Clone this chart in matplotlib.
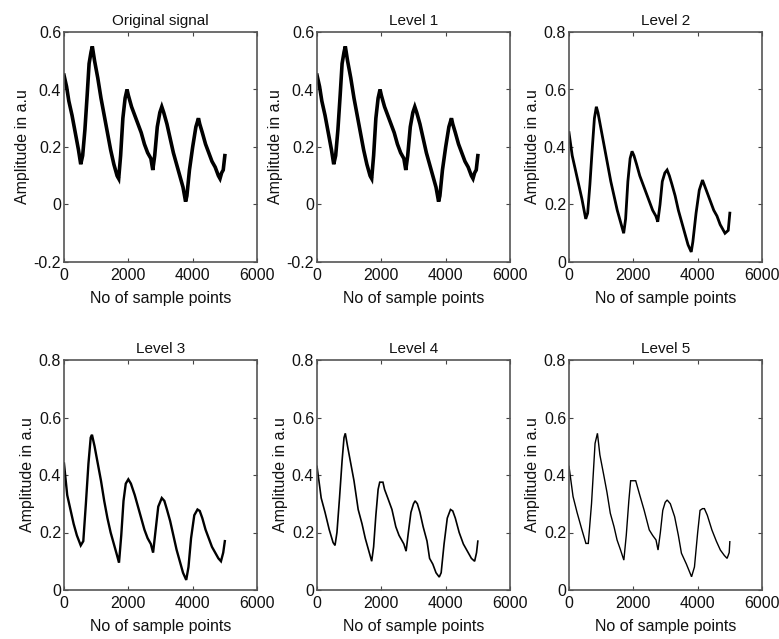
import numpy as np
import matplotlib.pyplot as plt

plt.rcParams['font.family'] = ['Liberation Sans', 'DejaVu Sans']

# sample index / amplitude pairs
original_x = [0, 80, 150, 250, 350, 450, 520, 580, 650, 720, 780, 840, 880, 950, 1050,
              1150, 1250, 1350, 1450, 1550, 1650, 1700, 1760, 1830, 1900, 1960, 2000, 2100,
              2200, 2300, 2400, 2500, 2600, 2700, 2760, 2820, 2900, 2980, 3040, 3100, 3200,
              3300, 3400, 3500, 3600, 3700, 3780, 3820, 3900, 4000, 4100, 4180, 4220, 4300,
              4400, 4500, 4600, 4700, 4800, 4850, 4900, 4950, 5000]
original_y = [0.45, 0.41, 0.36, 0.31, 0.25, 0.19, 0.14, 0.17, 0.26, 0.38, 0.49, 0.53, 0.55,
              0.50, 0.44, 0.37, 0.31, 0.25, 0.19, 0.14, 0.10, 0.09, 0.17, 0.30, 0.37, 0.40,
              0.38, 0.34, 0.31, 0.28, 0.25, 0.21, 0.18, 0.16, 0.12, 0.17, 0.27, 0.32, 0.34,
              0.32, 0.28, 0.23, 0.18, 0.14, 0.10, 0.06, 0.01, 0.03, 0.12, 0.20, 0.27, 0.30,
              0.28, 0.25, 0.21, 0.18, 0.15, 0.13, 0.10, 0.09, 0.11, 0.12, 0.17]

level1_x = list(original_x)
level1_y = list(original_y)

level2_x = [0, 100, 200, 300, 400, 520, 580, 650, 720, 790, 850, 900, 1000, 1100, 1200,
            1300, 1400, 1500, 1600, 1700, 1760, 1830, 1900, 1960, 2020, 2100, 2200, 2300,
            2400, 2500, 2600, 2700, 2760, 2830, 2900, 2980, 3050, 3120, 3200, 3300, 3400,
            3500, 3600, 3700, 3800, 3850, 3950, 4050, 4150, 4200, 4300, 4400, 4500, 4600,
            4700, 4800, 4850, 4950, 5000]
level2_y = [0.45, 0.37, 0.32, 0.27, 0.22, 0.15, 0.17, 0.27, 0.39, 0.50, 0.54, 0.52, 0.46,
            0.40, 0.34, 0.28, 0.23, 0.18, 0.14, 0.10, 0.15, 0.28, 0.36, 0.385, 0.37, 0.34,
            0.30, 0.27, 0.24, 0.21, 0.18, 0.16, 0.14, 0.20, 0.28, 0.31, 0.32, 0.30, 0.27,
            0.23, 0.18, 0.14, 0.10, 0.06, 0.035, 0.07, 0.17, 0.25, 0.285, 0.27, 0.24, 0.21,
            0.18, 0.16, 0.13, 0.11, 0.10, 0.11, 0.17]

level3_x = [0, 100, 200, 300, 400, 520, 600, 680, 760, 830, 870, 950, 1050, 1150, 1250,
            1350, 1450, 1550, 1650, 1710, 1780, 1850, 1920, 2000, 2080, 2200, 2300, 2400,
            2500, 2600, 2700, 2770, 2850, 2930, 3040, 3120, 3200, 3300, 3400, 3500, 3600,
            3700, 3800, 3870, 3950, 4050, 4150, 4220, 4300, 4400, 4500, 4600, 4700, 4800,
            4880, 4950, 5000]
level3_y = [0.44, 0.33, 0.28, 0.23, 0.19, 0.155, 0.17, 0.30, 0.44, 0.53, 0.54, 0.50, 0.44,
            0.38, 0.31, 0.25, 0.20, 0.16, 0.12, 0.095, 0.19, 0.31, 0.37, 0.385, 0.37, 0.33,
            0.29, 0.25, 0.21, 0.18, 0.16, 0.13, 0.21, 0.29, 0.32, 0.31, 0.28, 0.24, 0.19,
            0.14, 0.10, 0.06, 0.035, 0.08, 0.18, 0.26, 0.28, 0.275, 0.25, 0.21, 0.18, 0.15,
            0.13, 0.11, 0.10, 0.13, 0.17]

level4_x = [0, 60, 130, 250, 380, 500, 560, 620, 700, 780, 840, 880, 950, 1050, 1150,
            1280, 1400, 1500, 1600, 1700, 1760, 1830, 1900, 1950, 2050, 2100, 2200, 2330,
            2450, 2550, 2700, 2770, 2840, 2920, 3000, 3050, 3120, 3200, 3300, 3420, 3500,
            3600, 3700, 3800, 3860, 3950, 4050, 4150, 4220, 4300, 4420, 4550, 4700, 4800,
            4900, 4960, 5000]
level4_y = [0.43, 0.38, 0.32, 0.27, 0.21, 0.165, 0.155, 0.20, 0.32, 0.45, 0.53, 0.545, 0.50,
            0.44, 0.38, 0.28, 0.23, 0.18, 0.14, 0.10, 0.15, 0.26, 0.35, 0.375, 0.375, 0.35,
            0.32, 0.28, 0.22, 0.19, 0.16, 0.135, 0.20, 0.27, 0.30, 0.31, 0.30, 0.27, 0.22,
            0.17, 0.11, 0.09, 0.06, 0.045, 0.06, 0.16, 0.25, 0.28, 0.275, 0.25, 0.20, 0.16,
            0.13, 0.11, 0.10, 0.13, 0.17]

level5_x = [0, 126, 250, 400, 526, 600, 700, 810, 884, 960, 1080, 1180, 1284, 1400, 1494,
            1600, 1705, 1780, 1860, 1916, 2074, 2200, 2337, 2495, 2600, 2705, 2768, 2840,
            2915, 2990, 3052, 3150, 3284, 3400, 3495, 3650, 3810, 3900, 4000, 4074, 4150,
            4210, 4300, 4442, 4580, 4705, 4830, 4915, 4980, 5000]
level5_y = [0.43, 0.325, 0.27, 0.21, 0.162, 0.162, 0.30, 0.51, 0.545, 0.47, 0.40, 0.34,
            0.267, 0.22, 0.174, 0.14, 0.104, 0.19, 0.31, 0.38, 0.38, 0.33, 0.277, 0.209,
            0.19, 0.174, 0.139, 0.20, 0.277, 0.305, 0.313, 0.30, 0.255, 0.19, 0.128, 0.09,
            0.046, 0.08, 0.20, 0.277, 0.283, 0.283, 0.26, 0.209, 0.17, 0.139, 0.12, 0.11,
            0.13, 0.168]

titles = ["Original signal", "Level 1", "Level 2", "Level 3", "Level 4", "Level 5"]
traces = [(original_x, original_y), (level1_x, level1_y), (level2_x, level2_y),
          (level3_x, level3_y), (level4_x, level4_y), (level5_x, level5_y)]
# noisy traces are drawn heavier so the noise band shows as a thick stroke
widths = [2.6, 2.6, 2.0, 1.7, 1.2, 1.0]
ylims = [(-0.2, 0.6), (-0.2, 0.6), (0, 0.8), (0, 0.8), (0, 0.8), (0, 0.8)]
yticks = [[-0.2, 0, 0.2, 0.4, 0.6], [-0.2, 0, 0.2, 0.4, 0.6],
          [0, 0.2, 0.4, 0.6, 0.8], [0, 0.2, 0.4, 0.6, 0.8],
          [0, 0.2, 0.4, 0.6, 0.8], [0, 0.2, 0.4, 0.6, 0.8]]
xticks = [0, 2000, 4000, 6000]

fig = plt.figure(figsize=(7.79, 6.39), dpi=100)
W, H = 779, 639
lefts = [64, 317, 569]
tops = [32, 360]
aw, ah = 193, 230

for i in range(6):
    r, c = divmod(i, 3)
    ax = fig.add_axes([lefts[c] / W, 1 - (tops[r] + ah) / H, aw / W, ah / H])
    x, y = traces[i]
    ax.plot(x, y, color='black', lw=widths[i], solid_joinstyle='miter')
    ax.set_xlim(0, 6000)
    ax.set_ylim(*ylims[i])
    ax.set_xticks(xticks)
    ax.set_xticklabels([str(t) for t in xticks])
    ax.set_yticks(yticks[i])
    ax.set_yticklabels(['%g' % t for t in yticks[i]])
    ax.tick_params(direction='in', top=True, right=True, length=3, width=0.8,
                   labelsize=11.5, colors='#444444', labelcolor='#111111')
    ax.tick_params(axis='x', pad=4)
    ax.tick_params(axis='y', pad=2)
    for s in ax.spines.values():
        s.set_color('#555555')
        s.set_linewidth(1.2)
    ax.set_title(titles[i], fontsize=11, pad=5, color='#111111')
    ax.set_xlabel("No of sample points", fontsize=11.5, labelpad=6, color='#111111')
    ax.set_ylabel("Amplitude in a.u", fontsize=11.5, labelpad=3, color='#111111')

fig.savefig("out.png", dpi=100)
